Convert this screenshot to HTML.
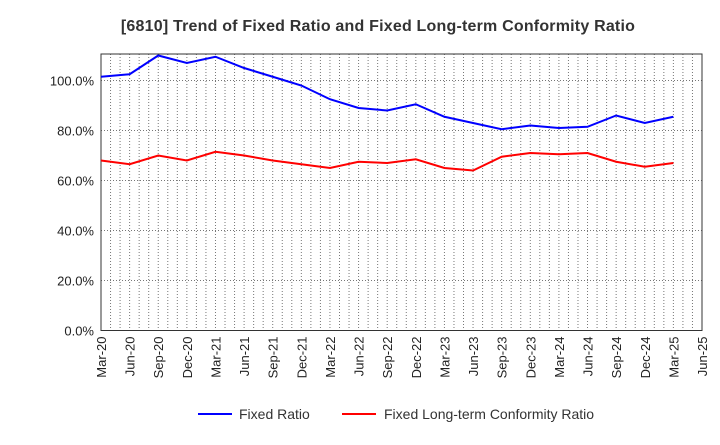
<!DOCTYPE html>
<html><head><meta charset="utf-8"><style>
body{margin:0;background:#fff;font-family:"Liberation Sans",sans-serif}
</style></head><body>
<svg width="720" height="440" xmlns="http://www.w3.org/2000/svg">
<text x="378" y="31" text-anchor="middle" font-size="16" font-weight="bold" fill="#333" letter-spacing="0.2">[6810]  Trend of Fixed Ratio and Fixed Long-term Conformity Ratio</text>
<g id="grid"></g><g id="axes"></g><g id="series"></g>
<g>
<line x1="198" y1="414" x2="232" y2="414" stroke="#0000ff" stroke-width="2"/>
<text x="239" y="419" font-size="14" fill="#333">Fixed Ratio</text>
<line x1="342" y1="414" x2="376" y2="414" stroke="#ff0000" stroke-width="2"/>
<text x="384" y="419" font-size="14" fill="#333">Fixed Long-term Conformity Ratio</text>
</g>
</svg>
<script>
const categories=["Mar-20","Jun-20","Sep-20","Dec-20","Mar-21","Jun-21","Sep-21","Dec-21","Mar-22","Jun-22","Sep-22","Dec-22","Mar-23","Jun-23","Sep-23","Dec-23","Mar-24","Jun-24","Sep-24","Dec-24","Mar-25","Jun-25"];
const fixedRatio=[101.5,102.5,110,107,109.5,105,101.5,98,92.5,89,88,90.5,85.5,83,80.5,82,81,81.5,86,83,85.5];
const conformityRatio=[68,66.5,70,68,71.5,70,68,66.5,65,67.5,67,68.5,65,64,69.5,71,70.5,71,67.5,65.5,67];
const yTicks=[0,20,40,60,80,100];
const NS="http://www.w3.org/2000/svg";
const L=101,R=702,T=54,B=330.5;
const step=(R-L)/(categories.length-1);
const x=i=>L+i*step;
const y=v=>B-v*2.5;
function mk(tag,attrs,parent){const e=document.createElementNS(NS,tag);for(const k in attrs)e.setAttribute(k,attrs[k]);document.getElementById(parent).appendChild(e);return e;}
for(let m=1;m<(categories.length-1)*3;m++){const gx=L+m*step/3;
const g=mk('line',{x1:gx,x2:gx,y1:T,y2:B,stroke:'#777','stroke-dasharray':'1,2','stroke-width':1},'grid');

}
yTicks.forEach(v=>{if(v>0){const g=mk('line',{x1:L,x2:R,y1:y(v),y2:y(v),stroke:'#777','stroke-dasharray':'1,2'},'grid');

}
const t=mk('text',{x:L-7,y:y(v)+5,'text-anchor':'end','font-size':13,fill:'#222'},'axes');t.textContent=v.toFixed(1)+'%';

});
const fr=mk('rect',{x:L,y:T,width:R-L,height:B-T,fill:'none',stroke:'#333','stroke-width':1},'axes');


categories.forEach((c,i)=>{const t=mk('text',{transform:`translate(${x(i)+5},${B+6}) rotate(-90)`,'text-anchor':'end','font-size':13,fill:'#222'},'axes');t.textContent=c;

});
function line(d,col,name){const p=mk('polyline',{points:d.map((v,i)=>x(i)+','+y(v)).join(' '),fill:'none',stroke:col,'stroke-width':2},'series');

}
line(fixedRatio,'#0000ff','fixed-ratio-line');
line(conformityRatio,'#ff0000','conformity-ratio-line');
</script>
</body></html>
